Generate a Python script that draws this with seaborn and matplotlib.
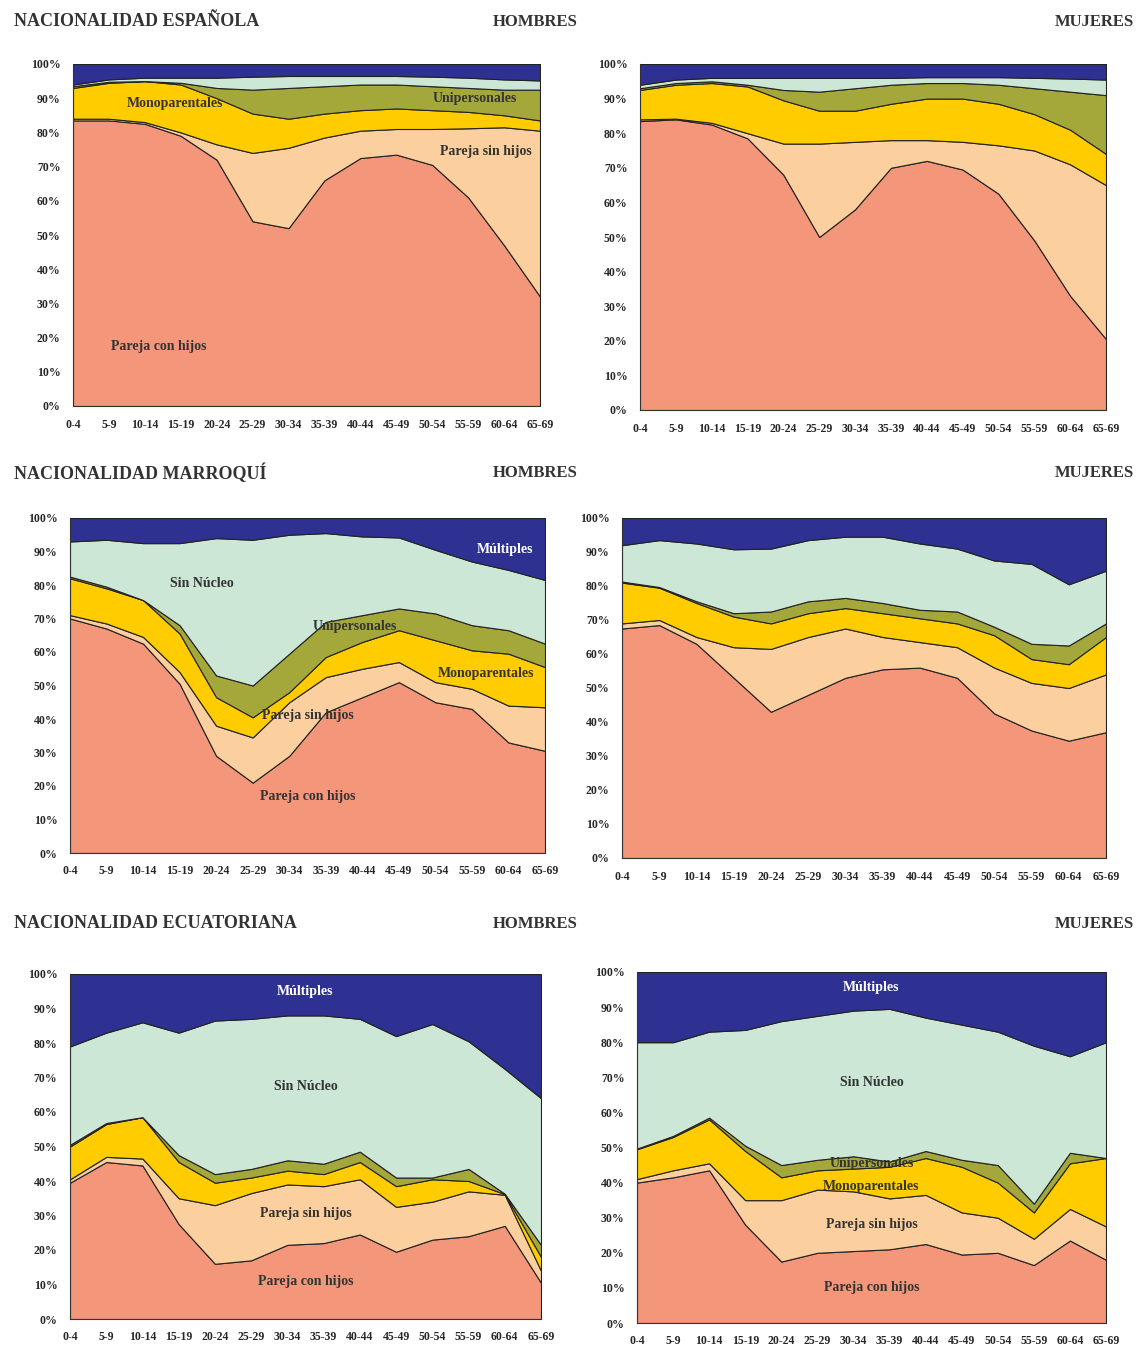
import numpy as np
import matplotlib
matplotlib.use("Agg")
import matplotlib.pyplot as plt
import seaborn as sns

sns.set_theme(style="white")
plt.rcParams["font.family"] = ["Liberation Serif", "DejaVu Serif"]

ages = ["0-4", "5-9", "10-14", "15-19", "20-24", "25-29", "30-34", "35-39",
        "40-44", "45-49", "50-54", "55-59", "60-64", "65-69"]
series = ["Pareja con hijos", "Pareja sin hijos", "Monoparentales",
          "Unipersonales", "Sin Núcleo", "Múltiples"]
colors = ["#F4967A", "#FBCF9E", "#FFCC00", "#A4A83A", "#CDE7D7", "#2E3192"]

# cumulative tops (%) of each layer, bottom to top (Múltiples reaches 100)
esp_h = [
    [83.5, 83.5, 82.5, 79, 72, 54, 52, 66, 72.5, 73.5, 70.5, 61, 47, 32],
    [84, 84, 83, 80, 76.5, 74, 75.5, 78.5, 80.5, 81, 81, 81.2, 81.5, 80.5],
    [93, 94.5, 95, 94, 90, 85.5, 84, 85.5, 86.5, 87, 86.5, 86, 85, 83.5],
    [93.5, 94.8, 95, 94.5, 93, 92.5, 93, 93.5, 94, 94, 93.5, 93, 92.5, 92.5],
    [94, 95.5, 96, 96, 96, 96.3, 96.5, 96.5, 96.5, 96.5, 96.3, 96, 95.5, 95.2],
]
esp_m = [
    [83.5, 84, 82.5, 78.5, 68, 50, 58, 70, 72, 69.5, 62.5, 49, 33, 20.5],
    [84, 84.2, 83, 80, 77, 77, 77.5, 78, 78, 77.5, 76.5, 75, 71, 65],
    [92.5, 94, 94.5, 93.5, 89.5, 86.5, 86.5, 88.5, 90, 90, 88.5, 85.5, 81, 74],
    [93, 94.5, 95, 94, 92.5, 92, 93, 94, 94.5, 94.5, 94, 93, 92, 91],
    [94, 95.5, 96, 96, 96, 96, 96, 96, 96.2, 96.2, 96.2, 96, 95.8, 95.5],
]
mar_h = [
    [70, 67, 62.5, 50.5, 29, 21, 29, 42, 46.5, 51, 45, 43, 33, 30.5],
    [71, 68.5, 64.5, 54, 38, 34.5, 45, 52.5, 55, 57, 51, 49, 44, 43.5],
    [82, 79, 75.5, 65.5, 46.5, 40.5, 48, 58.5, 63, 66.5, 63.5, 60.5, 59.5, 55.5],
    [82.5, 79.5, 75.5, 68, 53, 50, 59.5, 69, 71, 73, 71.5, 68, 66.5, 62.5],
    [93, 93.5, 92.5, 92.5, 94, 93.5, 95, 95.5, 94.5, 94.2, 90.5, 87, 84.5, 81.5],
]
mar_m = [
    [67.5, 68.5, 63, 53, 43, 48, 53, 55.5, 56, 53, 42.5, 37.5, 34.5, 37],
    [69, 70, 65, 62, 61.5, 65, 67.5, 65, 63.5, 62, 56, 51.5, 50, 54],
    [81, 79.5, 75, 71, 69, 72, 73.5, 72, 70.5, 69, 65.5, 58.5, 57, 65],
    [81.3, 79.7, 75.5, 72, 72.5, 75.5, 76.5, 75, 73, 72.5, 68, 63, 62.5, 69],
    [92, 93.5, 92.5, 90.8, 91, 93.5, 94.5, 94.5, 92.5, 91, 87.5, 86.5, 80.5, 84.5],
]
ecu_h = [
    [39.5, 45.5, 44.5, 27.5, 16, 17, 21.5, 22, 24.5, 19.5, 23, 24, 27, 10.5],
    [40.5, 47, 46.5, 35, 33, 36.5, 39, 38.5, 40.5, 32.5, 34, 37, 36, 14],
    [50, 56.5, 58.5, 45.5, 39.5, 41, 43, 42, 45.5, 38.5, 40.5, 40, 36.2, 18],
    [50.5, 56.8, 58.5, 47.5, 42, 43.5, 46, 45, 48.5, 41, 41, 43.5, 36.3, 21.5],
    [79, 83, 86, 83, 86.5, 87, 88, 88, 87, 82, 85.5, 80.5, 72.5, 64],
]
ecu_m = [
    [40, 41.5, 43.5, 28, 17.5, 20, 20.5, 21, 22.5, 19.5, 20, 16.5, 23.5, 18],
    [41, 43.5, 45.5, 35, 35, 38, 37.5, 35.5, 36.5, 31.5, 30, 24, 32.5, 27.5],
    [49.5, 53, 58, 49, 41.5, 43.5, 44, 44.5, 47, 44.5, 40, 31.5, 45.5, 47],
    [49.7, 53.3, 58.5, 50.5, 45, 46.5, 47.5, 46, 49, 46.5, 45, 34, 48.5, 47],
    [80, 80, 83, 83.5, 86, 87.5, 89, 89.5, 87, 85, 83, 79, 76, 80],
]

# labels inside each panel: (text, x index, y %)
labels_esp_h = [("Monoparentales", 2.85, 88.5), ("Unipersonales", 11.2, 90),
                ("Pareja sin hijos", 11.5, 74.5), ("Pareja con hijos", 2.4, 17.5)]
labels_mar_h = [("Múltiples", 11.9, 90.5), ("Sin Núcleo", 3.6, 80.5),
                ("Unipersonales", 7.8, 67.5), ("Monoparentales", 11.4, 53.5),
                ("Pareja sin hijos", 6.5, 41), ("Pareja con hijos", 6.5, 17)]
labels_ecu_h = [("Múltiples", 6.5, 95), ("Sin Núcleo", 6.5, 67.5),
                ("Pareja sin hijos", 6.5, 30.5), ("Pareja con hijos", 6.5, 11)]
labels_ecu_m = [("Múltiples", 6.5, 95.5), ("Sin Núcleo", 6.5, 68.5),
                ("Unipersonales", 6.5, 45.5), ("Monoparentales", 6.5, 39),
                ("Pareja sin hijos", 6.5, 28), ("Pareja con hijos", 6.5, 10)]

W, H = 1137, 1354
fig = plt.figure(figsize=(W / 100, H / 100), dpi=100)

panels = [
    (esp_h, (73, 540, 64, 406), labels_esp_h),
    (esp_m, (640, 1106, 64, 410), []),
    (mar_h, (70, 545, 518, 853), labels_mar_h),
    (mar_m, (622, 1106, 518, 858), []),
    (ecu_h, (70, 541, 974, 1319), labels_ecu_h),
    (ecu_m, (637, 1106, 972, 1323), labels_ecu_m),
]

x = np.arange(len(ages))
for cum, (x0, x1, y0, y1), labs in panels:
    ax = fig.add_axes([x0 / W, 1 - y1 / H, (x1 - x0) / W, (y1 - y0) / H])
    tops = np.vstack([np.array(cum), np.full(len(ages), 100.0)])
    layers = np.diff(np.vstack([np.zeros(len(ages)), tops]), axis=0)
    ax.stackplot(x, layers, colors=colors, edgecolor="#222222", linewidth=0.8)
    ax.set_xlim(0, len(ages) - 1)
    ax.set_ylim(0, 100)
    ax.set_xticks(x)
    ax.set_xticklabels(ages, fontsize=8.5, fontweight="bold")
    ax.set_yticks(range(0, 101, 10))
    ax.set_yticklabels([f"{v}%" for v in range(0, 101, 10)], fontsize=8.5, fontweight="bold")
    ax.tick_params(axis="both", length=3, direction="out", pad=6, color="#333333")
    for s in ["top", "right"]:
        ax.spines[s].set_visible(False)
    for s in ["left", "bottom"]:
        ax.spines[s].set_color("#333333")
        ax.spines[s].set_linewidth(0.8)
    for t, lx, ly in labs:
        c = "white" if t == "Múltiples" else "#333333"
        ax.text(lx, ly, t, ha="center", va="center", fontsize=10,
                fontweight="bold", color=c)

headers = [("NACIONALIDAD ESPAÑOLA", 22), ("NACIONALIDAD MARROQUÍ", 473),
           ("NACIONALIDAD ECUATORIANA", 924)]
for txt, y in headers:
    fig.text(14 / W, 1 - y / H, txt, fontsize=13, fontweight="bold",
             color="#333333", va="center", ha="left")
    fig.text(578 / W, 1 - y / H, "HOMBRES", fontsize=12, fontweight="bold",
             color="#333333", va="center", ha="right")
    fig.text(1134 / W, 1 - y / H, "MUJERES", fontsize=12, fontweight="bold",
             color="#333333", va="center", ha="right")

fig.savefig("out.png", dpi=100, facecolor="white")
